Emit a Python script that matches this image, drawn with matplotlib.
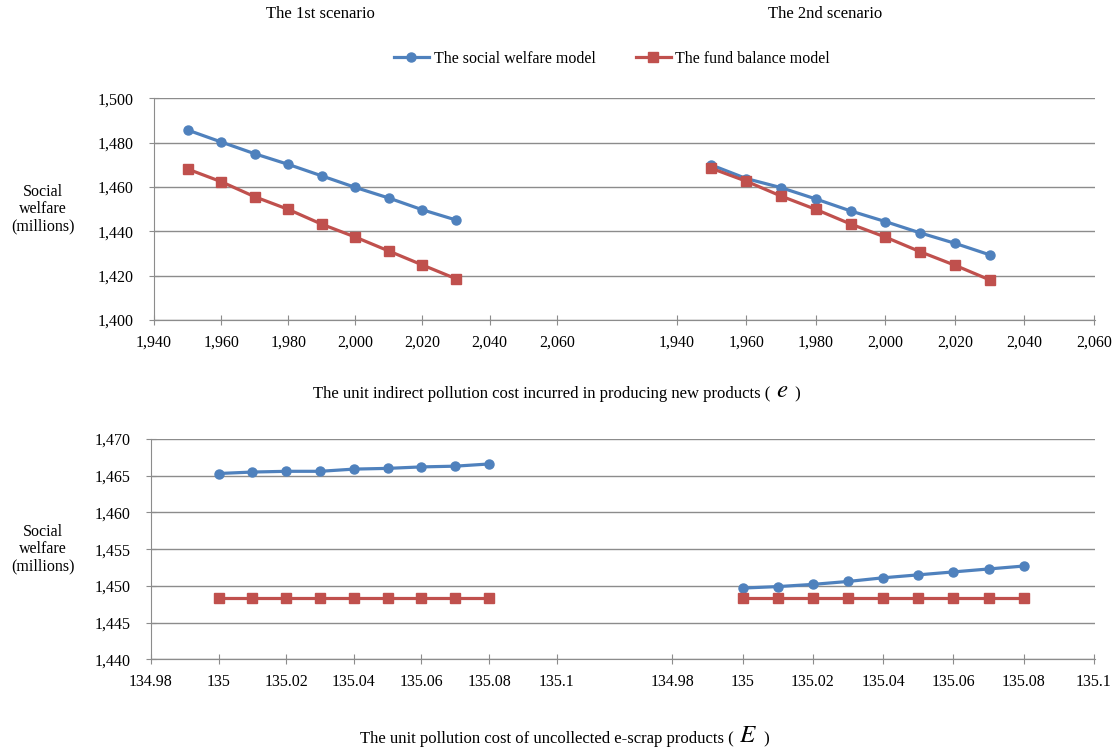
import matplotlib
matplotlib.use("Agg")
import matplotlib.pyplot as plt
from matplotlib.ticker import FuncFormatter, MultipleLocator

plt.rcParams['font.family'] = ['Liberation Serif', 'DejaVu Serif']
plt.rcParams['mathtext.fontset'] = 'stix'

# ---- data ----
e_values = [1950, 1960, 1970, 1980, 1990, 2000, 2010, 2020, 2030]
s1_welfare_e = [1485.7, 1480.3, 1475.0, 1470.2, 1465.0, 1459.8, 1455.0, 1449.7, 1445.1]
s1_fund_e = [1468.1, 1462.4, 1455.6, 1449.9, 1443.2, 1437.4, 1431.1, 1424.8, 1418.6]
s2_welfare_e = [1469.9, 1463.8, 1459.7, 1454.6, 1449.2, 1444.4, 1439.3, 1434.6, 1429.4]
s2_fund_e = [1468.4, 1462.6, 1455.9, 1449.9, 1443.3, 1437.4, 1430.8, 1424.7, 1418.1]

E_values = [135.00, 135.01, 135.02, 135.03, 135.04, 135.05, 135.06, 135.07, 135.08]
s1_welfare_E = [1465.3, 1465.5, 1465.6, 1465.6, 1465.9, 1466.0, 1466.2, 1466.3, 1466.6]
s1_fund_E = [1448.4, 1448.4, 1448.4, 1448.4, 1448.4, 1448.4, 1448.4, 1448.4, 1448.4]
s2_welfare_E = [1449.7, 1449.9, 1450.2, 1450.6, 1451.1, 1451.5, 1451.9, 1452.3, 1452.7]
s2_fund_E = [1448.4, 1448.4, 1448.4, 1448.4, 1448.4, 1448.4, 1448.4, 1448.4, 1448.4]

titles = ["The 1st scenario", "The 2nd scenario"]
legend_labels = ["The social welfare model", "The fund balance model"]

BLUE = '#4F81BD'
RED = '#C0504D'
GRID = '#8C8C8C'
W, H = 1116, 754

fig = plt.figure(figsize=(W / 100, H / 100), dpi=100)


def frac_rect(x0, x1, ytop, ybot):
    return [x0 / W, 1 - ybot / H, (x1 - x0) / W, (ybot - ytop) / H]


def make_row(ytop, ybot, bg_x0, panels, ylim, ystep, xlim, xstep, xfmt, xs, data):
    bg = fig.add_axes(frac_rect(bg_x0, 1095, ytop, ybot))
    bg.set_xlim(0, 1)
    bg.set_ylim(*ylim)
    bg.yaxis.set_major_locator(MultipleLocator(ystep))
    bg.yaxis.set_major_formatter(FuncFormatter(lambda v, p: f"{v:,.0f}"))
    bg.grid(axis='y', color=GRID, linewidth=1.0)
    bg.set_axisbelow(True)
    bg.set_xticks([])
    for s in ['top', 'right']:
        bg.spines[s].set_visible(False)
    bg.spines['left'].set_color(GRID)
    bg.spines['bottom'].set_color(GRID)
    bg.tick_params(axis='y', direction='inout', length=7, color=GRID,
                   labelsize=11.5, pad=11)
    axes = []
    for (x0, x1), (yw, yf) in zip(panels, data):
        ax = fig.add_axes(frac_rect(x0, x1, ytop, ybot))
        ax.patch.set_alpha(0)
        ax.set_xlim(*xlim)
        ax.set_ylim(*ylim)
        ax.set_yticks([])
        for s in ['top', 'right', 'left']:
            ax.spines[s].set_visible(False)
        ax.spines['bottom'].set_color(GRID)
        ax.xaxis.set_major_locator(MultipleLocator(xstep))
        ax.xaxis.set_major_formatter(FuncFormatter(xfmt))
        ax.tick_params(axis='x', direction='inout', length=7, color=GRID,
                       labelsize=11.5, pad=7)
        l1, = ax.plot(xs, yw, color=BLUE, lw=2.3, marker='o', ms=6.5,
                      label=legend_labels[0], clip_on=False)
        l2, = ax.plot(xs, yf, color=RED, lw=2.3, marker='s', ms=6.5,
                      label=legend_labels[1], clip_on=False)
        axes.append((ax, l1, l2))
    return bg, axes


bg1, top = make_row(98.3, 320, 154, [(154, 556.7), (676.7, 1094)],
                    (1400, 1500), 20, (1940, 2060), 20,
                    lambda v, p: f"{v:,.0f}", e_values,
                    [(s1_welfare_e, s1_fund_e), (s2_welfare_e, s2_fund_e)])

bg2, bot = make_row(439, 659.3, 151, [(151, 556.7), (672.3, 1094)],
                    (1440, 1470), 5, (134.98, 135.1), 0.02,
                    lambda v, p: f"{round(v, 2):g}", E_values,
                    [(s1_welfare_E, s1_fund_E), (s2_welfare_E, s2_fund_E)])

# scenario titles
fig.text(320 / W, 1 - 14 / H, titles[0], ha='center', va='center', fontsize=12)
fig.text(825 / W, 1 - 14 / H, titles[1], ha='center', va='center', fontsize=12)

# legend
fig.legend(handles=[top[0][1], top[0][2]], loc='center',
           bbox_to_anchor=(612 / W, 1 - 59 / H), ncol=2, frameon=False,
           fontsize=11.5, handlelength=2.2, columnspacing=2.5,
           handletextpad=0.3)

# y labels
for yc in [(98.3 + 320) / 2, (439 + 659.3) / 2]:
    fig.text(43 / W, 1 - yc / H, "Social\nwelfare\n(millions)", ha='center',
             va='center', fontsize=11.5, linespacing=1.1)

# x labels with italic symbols
t1 = fig.text(313 / W, 1 - 398 / H,
              "The unit indirect pollution cost incurred in producing new products (",
              ha='left', va='baseline', fontsize=12)
a2 = fig.text(0, 0, "", fontsize=1)
a2 = plt.annotate("$e$", xy=(1, 0), xycoords=t1, xytext=(4, 0),
                  textcoords='offset points', fontsize=18, va='bottom',
                  ha='left', annotation_clip=False)
plt.annotate(" )", xy=(1, 0), xycoords=a2, xytext=(2, 0),
             textcoords='offset points', fontsize=12, va='bottom', ha='left',
             annotation_clip=False)

u1 = fig.text(360 / W, 1 - 743 / H,
              "The unit pollution cost of uncollected e-scrap products (",
              ha='left', va='baseline', fontsize=12)
b2 = plt.annotate("$E$", xy=(1, 0), xycoords=u1, xytext=(4, 0),
                  textcoords='offset points', fontsize=18, va='bottom',
                  ha='left', annotation_clip=False)
plt.annotate(" )", xy=(1, 0), xycoords=b2, xytext=(2, 0),
             textcoords='offset points', fontsize=12, va='bottom', ha='left',
             annotation_clip=False)

fig.savefig("out.png", dpi=100)
